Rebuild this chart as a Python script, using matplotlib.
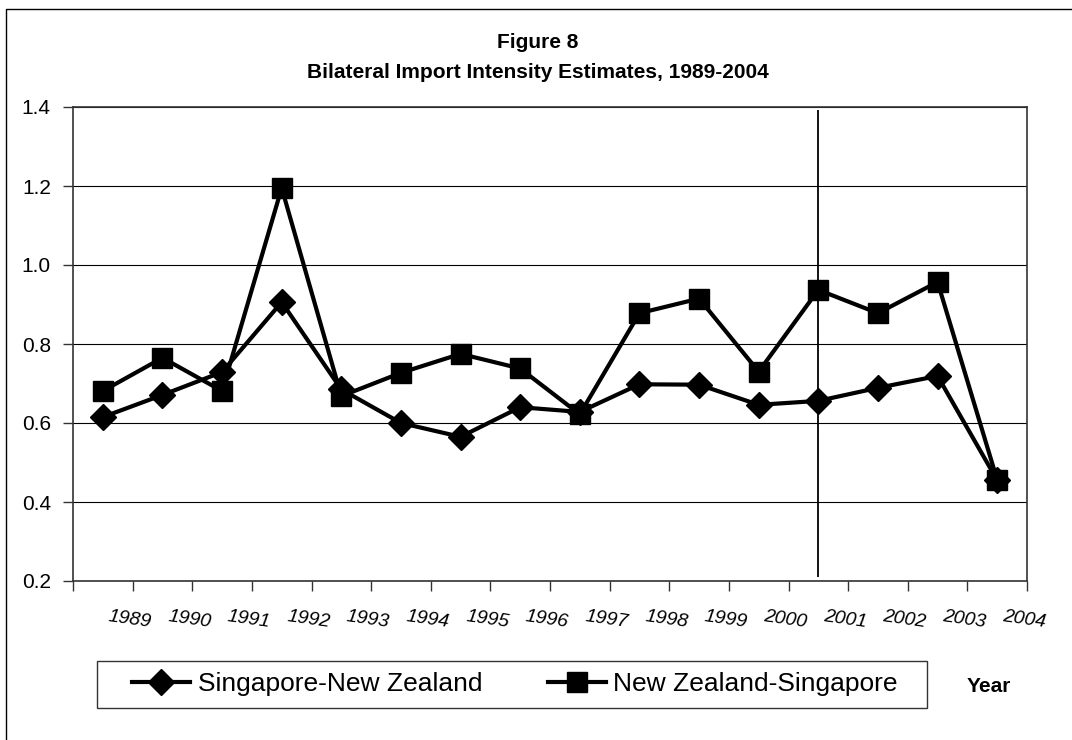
import matplotlib.pyplot as plt
from matplotlib.lines import Line2D
from matplotlib.patches import Rectangle
import matplotlib.transforms as mtransforms

plt.rcParams['font.family'] = ['Liberation Sans', 'DejaVu Sans']

years = ['1989', '1990', '1991', '1992', '1993', '1994', '1995', '1996',
         '1997', '1998', '1999', '2000', '2001', '2002', '2003', '2004']
sing_nz = [0.615, 0.671, 0.729, 0.906, 0.685, 0.600, 0.565, 0.640,
           0.628, 0.698, 0.697, 0.646, 0.656, 0.689, 0.719, 0.455]
nz_sing = [0.681, 0.765, 0.681, 1.195, 0.668, 0.727, 0.775, 0.738,
           0.622, 0.878, 0.915, 0.730, 0.937, 0.878, 0.957, 0.456]
yticks = [0.2, 0.4, 0.6, 0.8, 1.0, 1.2, 1.4]

W, H = 1072, 740
fig = plt.figure(figsize=(W / 100, H / 100), dpi=100)
ax = fig.add_axes([73 / W, 1 - 581 / H, (1027 - 73) / W, (581 - 107) / H])

x = list(range(len(years)))
ax.plot(x, sing_nz, color='black', lw=3, marker='D', markersize=13,
        label='Singapore-New Zealand', zorder=3)
ax.plot(x, nz_sing, color='black', lw=3, marker='s', markersize=14.5,
        label='New Zealand-Singapore', zorder=4)

# vertical marker line at 2001
ax.vlines(years.index('2001'), 0.21, 1.392, color='black', lw=1.3, zorder=2)

ax.set_xlim(-0.5, len(years) - 0.5)
ax.set_ylim(0.2, 1.4)
ax.set_yticks(yticks)
ax.set_yticklabels(['%.1f' % v for v in yticks], fontsize=15)
ax.set_xticks([k - 0.5 for k in range(len(years) + 1)])
ax.set_xticklabels([])
ax.tick_params(direction='out', length=7, width=1, color='#333333', pad=9)
ax.yaxis.grid(True, color='black', lw=0.8)
ax.set_axisbelow(True)
for s in ax.spines.values():
    s.set_color('#333333')
    s.set_linewidth(1.2)

# staggered italic year labels
trans = mtransforms.blended_transform_factory(ax.transData, ax.transAxes)
for i, yr in enumerate(years):
    ax.text(i + 0.45, -0.082, yr, transform=trans, fontsize=14, style='italic',
            rotation=-8, ha='center', va='center', rotation_mode='anchor')

# title
fig.text(538 / W, 1 - 43 / H, 'Figure 8', ha='center', va='center',
         fontsize=15, fontweight='bold')
fig.text(538 / W, 1 - 72 / H, 'Bilateral Import Intensity Estimates, 1989-2004',
         ha='center', va='center', fontsize=15, fontweight='bold')

# legend box
fig.patches.append(Rectangle((97 / W, 1 - 708 / H), 830 / W, 47 / H,
                             transform=fig.transFigure, fill=False,
                             edgecolor='#333333', lw=1))
leg = fig.legend(loc='center', bbox_to_anchor=(515 / W, 1 - 684.5 / H),
                 ncol=2, frameon=False, fontsize=19, handlelength=2.2,
                 handletextpad=0.27, columnspacing=2.5)

fig.text(989 / W, 1 - 686 / H, 'Year', ha='center', va='center',
         fontsize=15, fontweight='bold')

# outer border (left and top)
fig.lines.append(Line2D([6 / W, 6 / W, 1], [0, 1 - 9 / H, 1 - 9 / H],
                        transform=fig.transFigure, color='black', lw=1))

fig.savefig('out.png', dpi=100)
